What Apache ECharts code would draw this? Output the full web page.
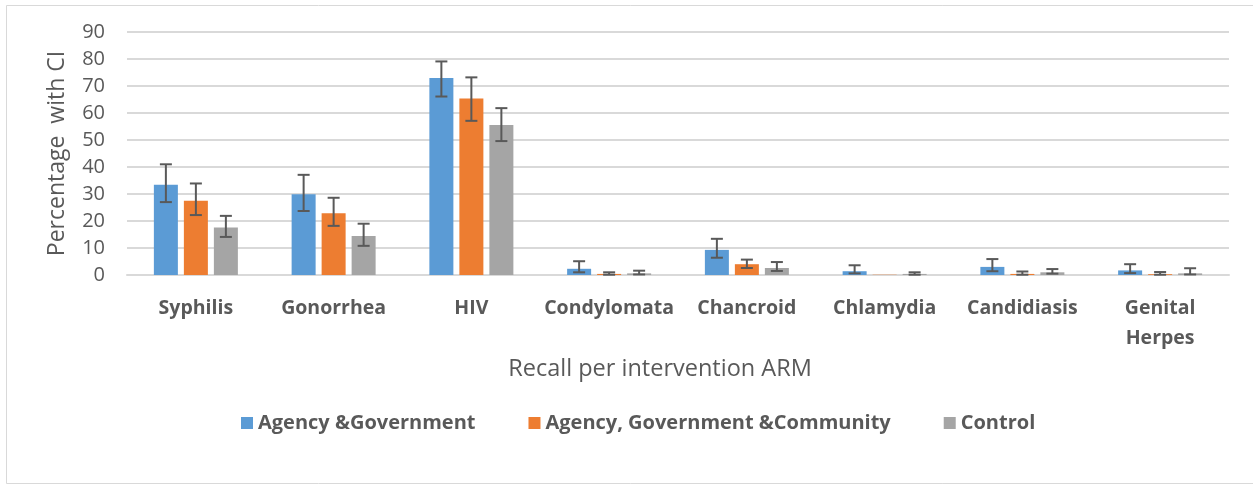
<!DOCTYPE html>
<html>
<head>
<meta charset="utf-8">
<script src="https://cdn.jsdelivr.net/npm/echarts@6/dist/echarts.min.js"></script>
<style>
html,body{margin:0;padding:0;background:#fff;}
#chart{width:1253px;height:491px;}
</style>
</head>
<body>
<div id="chart"></div>
<script>
const categories = ['Syphilis','Gonorrhea','HIV','Condylomata','Chancroid','Chlamydia','Candidiasis','Genital Herpes'];
const seriesNames = ['Agency &Government','Agency, Government &Community','Control'];

const agencyGov      = [33.4, 29.9, 73.0, 2.3, 9.3, 1.4, 3.0, 1.7];
const agencyGovLow   = [27.0, 23.7, 66.1, 1.0, 6.4, 0.6, 1.4, 0.7];
const agencyGovHigh  = [41.0, 37.1, 79.1, 5.1, 13.4, 3.6, 5.9, 4.0];

const agencyGovComm     = [27.5, 22.9, 65.4, 0.4, 4.0, 0.1, 0.4, 0.3];
const agencyGovCommLow  = [22.2, 18.2, 57.1, 0.1, 2.6, null, 0.1, 0.1];
const agencyGovCommHigh = [33.9, 28.6, 73.2, 1.0, 5.7, null, 1.3, 1.1];

const control     = [17.6, 14.4, 55.6, 0.6, 2.6, 0.4, 1.0, 0.6];
const controlLow  = [14.1, 10.8, 49.6, 0.2, 1.5, 0.1, 0.5, 0.2];
const controlHigh = [21.9, 19.0, 61.8, 1.6, 4.8, 1.0, 2.2, 2.5];

const yTicks = [0, 10, 20, 30, 40, 50, 60, 70, 80, 90];

const colors = ['#5B9BD5', '#ED7D31', '#A5A5A5'];
const textColor = '#595959';
const FONT = '"Open Sans", "Liberation Sans", sans-serif';
const BAR_W = 24, BAR_STEP = 30;

const values = [agencyGov, agencyGovComm, control];
const lows = [agencyGovLow, agencyGovCommLow, controlLow];
const highs = [agencyGovHigh, agencyGovCommHigh, controlHigh];

function errSeries(k) {
  return {
    type: 'custom',
    name: 'err' + k,
    silent: true,
    z: 10,
    data: categories.map((c, i) => [i, lows[k][i], highs[k][i]]),
    renderItem: function (params, api) {
      const lo = api.value(1), hi = api.value(2);
      if (lo == null || hi == null || isNaN(lo) || isNaN(hi)) return null;
      const p1 = api.coord([api.value(0), lo]);
      const p2 = api.coord([api.value(0), hi]);
      const x = p1[0] + (k - 1) * BAR_STEP;
      const cap = 6;
      const style = { stroke: '#595959', lineWidth: 2 };
      return {
        type: 'group',
        children: [
          { type: 'line', shape: { x1: x, y1: p1[1], x2: x, y2: p2[1] }, style: style },
          { type: 'line', shape: { x1: x - cap, y1: p1[1], x2: x + cap, y2: p1[1] }, style: style },
          { type: 'line', shape: { x1: x - cap, y1: p2[1], x2: x + cap, y2: p2[1] }, style: style }
        ]
      };
    }
  };
}

const chart = echarts.init(document.getElementById('chart'), null, { renderer: 'canvas' });
const option = {
  animation: false,
  backgroundColor: '#fff',
  textStyle: { fontFamily: FONT },
  color: colors,
  graphic: [{
    type: 'rect',
    shape: { x: 6.5, y: 5.5, width: 1300, height: 478 },
    style: { fill: 'none', stroke: '#d9d9d9', lineWidth: 1 },
    silent: true
  }],
  grid: { left: 127, right: 24, top: 32, bottom: 216, containLabel: false },
  legend: {
    data: seriesNames,
    top: 408,
    left: 236,
    icon: 'rect',
    itemWidth: 12,
    itemHeight: 12,
    itemGap: 53,
    textStyle: { color: textColor, fontSize: 20, fontWeight: 'bold', fontFamily: FONT }
  },
  xAxis: {
    type: 'category',
    data: categories,
    name: 'Recall per intervention ARM',
    nameLocation: 'middle',
    nameGap: 82,
    nameTextStyle: { color: textColor, fontSize: 23.5, fontFamily: FONT, padding: [0, 36, 0, 0] },
    axisLine: { show: true, lineStyle: { color: '#d9d9d9', width: 2 } },
    axisTick: { show: false },
    axisLabel: {
      color: textColor, fontSize: 19.5, fontWeight: 'bold', margin: 18, lineHeight: 30,
      interval: 0, fontFamily: FONT,
      formatter: v => v.replace(' ', '\n')
    }
  },
  yAxis: {
    type: 'value',
    min: yTicks[0],
    max: yTicks[yTicks.length - 1],
    interval: yTicks[1] - yTicks[0],
    name: 'Percentage  with CI',
    nameLocation: 'middle',
    nameGap: 58,
    nameRotate: 90,
    nameTextStyle: { color: textColor, fontSize: 23, fontFamily: FONT },
    axisLine: { show: false },
    axisTick: { show: false },
    axisLabel: { color: textColor, fontSize: 20, margin: 22, fontFamily: FONT },
    splitLine: { lineStyle: { color: '#d9d9d9', width: 2 } }
  },
  series: [
    ...seriesNames.map((n, k) => ({
      type: 'bar', name: n, data: values[k], barWidth: BAR_W, barGap: '25%',
      itemStyle: { color: colors[k] }
    })),
    errSeries(0), errSeries(1), errSeries(2)
  ]
};
chart.setOption(option);
</script>
</body>
</html>
